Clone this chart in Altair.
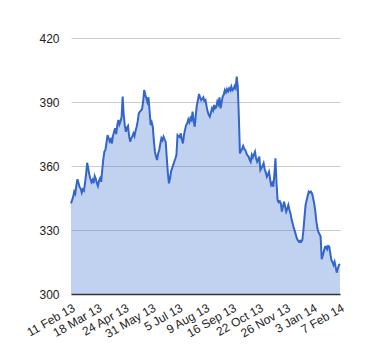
import altair as alt
import pandas as pd

tick_labels = ["11 Feb 13", "18 Mar 13", "24 Apr 13", "31 May 13", "5 Jul 13",
               "9 Aug 13", "16 Sep 13", "22 Oct 13", "26 Nov 13", "3 Jan 14", "7 Feb 14"]

values = [
    342.5, 344, 345.5, 348, 347, 351, 353.8, 352, 350, 349.5,
    347.5, 349, 348.4, 352, 356, 361.5, 359, 356, 354, 352.4,
    353.5, 352, 355.3, 354, 352, 350.6, 353, 354.2, 352.6, 358,
    363, 366.7, 367.5, 371, 374.5, 373, 371.5, 372.5, 370.6, 374,
    376, 377.7, 375, 379, 381.6, 379.5, 381, 382.8, 392.5, 384,
    379, 376, 378, 378.8, 374, 371.4, 373, 374, 375.3, 374,
    376.5, 378.4, 381, 384.7, 385.5, 386, 386.6, 390, 395.6, 393.5,
    391.7, 390, 392.2, 386, 379.2, 380.5, 378.4, 372, 366.7, 364.5,
    362.8, 365.9, 367.5, 370.5, 373, 372, 373.7, 372.5, 371.4, 364,
    357, 351.9, 354, 357.5, 359, 360.5, 362, 363.5, 365.2, 374.5,
    374, 373.5, 375.3, 372.5, 370.6, 374.5, 377, 379.2, 380, 381.8,
    380.5, 382.5, 381.6, 385.5, 381, 378.4, 384, 388.6, 391, 393.75,
    392, 390.9, 391.5, 392.2, 390.5, 390.9, 388, 385.5, 384, 383.1,
    385, 387, 386, 388.6, 387, 387.5, 390.2, 389, 392.2, 387,
    390, 392.5, 393.5, 395.6, 394.5, 396, 395, 396.4, 395.5, 397.2,
    395.5, 396, 397.5, 396.5, 401.9, 397.2, 383, 365.9, 367, 368,
    369.4, 368, 367.5, 366, 365, 364.4, 363, 362, 365.2, 364,
    365.5, 366.7, 363.6, 362, 363, 364.4, 358.1, 359, 360, 361.3,
    358.5, 357, 355, 356, 357.3, 354, 351.1, 352, 350.3, 356,
    363.6, 352, 344, 343, 343.5, 342.5, 338.6, 341, 343.3, 341,
    338.6, 340, 341.7, 339.5, 337.8, 335, 333.1, 331, 329.5, 327.7,
    326, 325, 324.5, 325, 324.5, 325.3, 330, 336, 341.7, 344,
    346, 348, 347.5, 348, 347.2, 345, 342.5, 339, 334, 330.8,
    329, 328, 326.9, 316.3, 318, 320, 322, 322.2, 321, 322.5,
    322.2, 319, 315.9, 315, 313.6, 315.1, 312.5, 310, 312, 313.6,
    314.1,
]

y_ticks = [300, 330, 360, 390, 420]
x_ticks = [i * 25 for i in range(len(tick_labels))]

df = pd.DataFrame({"i": list(range(len(values))), "v": values})

label_array = "[" + ",".join("'" + s + "'" for s in tick_labels) + "]"

x = alt.X("i:Q",
          scale=alt.Scale(domain=[0, len(values) - 1], nice=False, zero=False),
          axis=alt.Axis(values=x_ticks, labelExpr=label_array + "[round(datum.value/25)]",
                        title=None, grid=False, ticks=False, domain=True,
                        domainColor="#333333", domainWidth=1.5,
                        labelAngle=-30, labelAlign="right", labelBaseline="top",
                        labelPadding=8, labelFontSize=12, labelColor="#222222",
                        labelFont="Liberation Sans", labelOverlap=False))
y = alt.Y("v:Q",
          scale=alt.Scale(domain=[300, 420], nice=False, zero=False),
          axis=alt.Axis(values=y_ticks, title=None, grid=True, gridColor="#cccccc",
                        ticks=False, domain=False, labelPadding=12, labelFontSize=12,
                        labelColor="#222222", labelFont="Liberation Sans"))

area = alt.Chart(df).mark_area(color="#3366cc", opacity=0.3).encode(
    x=x, y=y, y2=alt.datum(300))
line = alt.Chart(df).mark_line(color="#3366cc", strokeWidth=2).encode(x=x, y=y)

chart = alt.layer(area, line).properties(
    width=269, height=256,
    autosize=alt.AutoSizeParams(type="none"),
    padding={"left": 63, "top": 30, "right": 20, "bottom": 60},
).configure_view(stroke=None)

chart.save("out.html", embed_options={"renderer": "svg", "actions": False})
